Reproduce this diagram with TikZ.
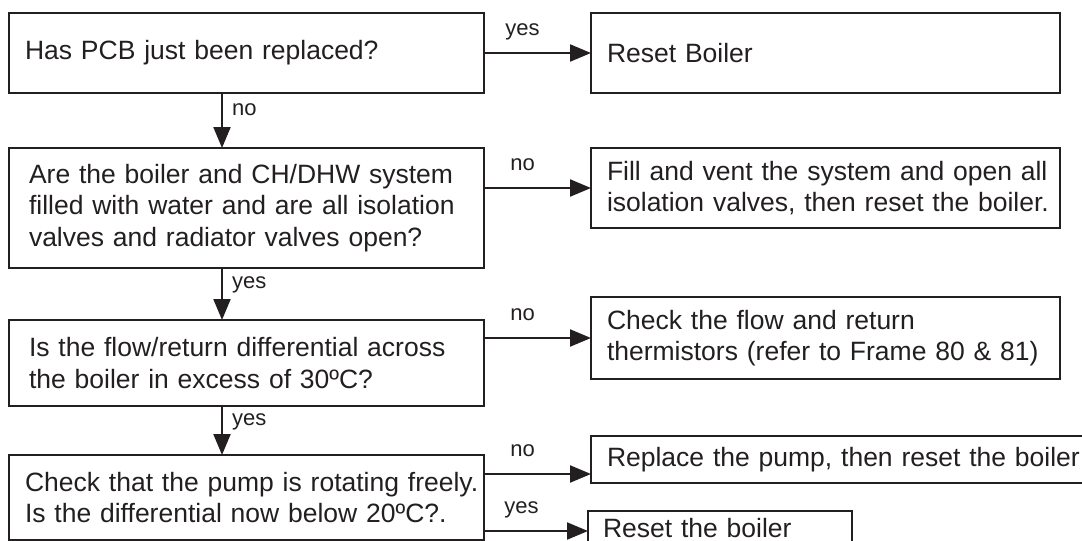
\documentclass[tikz,border=0pt]{standalone}
\usepackage{fontspec}
\setmainfont{Liberation Sans}
\usetikzlibrary{calc, positioning, arrows.meta}
\definecolor{ink}{HTML}{231F20}

\begin{document}
\begin{tikzpicture}[x=1pt,y=-1pt]
  \tikzset{box/.style={draw=ink,line width=2.2pt,text=ink,rectangle,anchor=north west,
      align=left,inner xsep=16pt,inner ysep=0pt,outer sep=0pt,
      font=\fontsize{26.5}{31.5}\selectfont},
    flow/.style={draw=ink,line width=2.2pt,-{Triangle[length=21pt,width=17pt]}},
    lbl/.style={text=ink,inner sep=0pt,font=\fontsize{22}{26}\selectfont}}
  \useasboundingbox (0,0) rectangle (1082,541);
  % questions
  \node[box,text width=443pt,minimum height=80pt](q1) at (9,13) {Has PCB just been replaced?};
  \node[box,inner xsep=20pt,text width=435pt,minimum height=120pt](q2) at (9,148)
  {Are the boiler and CH/DHW system\\ \mbox{filled with water and are all isolation}\\ valves and radiator valves open?};
  \node[box,inner xsep=20pt,text width=435pt,minimum height=86pt](q3) at (9,320)
  {\mbox{Is the flow/return differential across}\\ the boiler in excess of 30ºC?};
  \node[box,inner xsep=16pt,text width=443pt,minimum height=85pt](q4) at (9,455)
  {\mbox{Check that the pump is rotating freely.}\\ Is the differential now below 20ºC?.};
  % actions
  \node[box,text width=437pt,minimum height=80pt](r1) at (591,13) {Reset Boiler};
  \node[box,text width=437pt,minimum height=80pt](r2) at (591,148)
  {\mbox{Fill and vent the system and open all}\\ \mbox{isolation valves, then reset the boiler.}};
  \node[box,text width=437pt,minimum height=82pt](r3) at (591,297)
  {Check the flow and return\\ \mbox{thermistors (refer to Frame 80 \& 81)}};
  \node[box,text width=478pt,minimum height=47pt](r4) at (591,436)
  {\mbox{Replace the pump, then reset the boiler}};
  \node[box,inner xsep=15pt,text width=234pt,minimum height=34pt](r5) at (588,511)
  {Reset the boiler};
  \coordinate (dx) at (222,0);
  \coordinate (a4) at (591,474);
  \coordinate (a5) at (588,531);
  % down the left
  \draw[flow] (q1.south -| dx) -- node[lbl,pos=0.3,anchor=west,xshift=9pt]{no} (q2.north -| dx);
  \draw[flow] (q2.south -| dx) -- node[lbl,pos=0.33,anchor=west,xshift=9pt]{yes} (q3.north -| dx);
  \draw[flow] (q3.south -| dx) -- node[lbl,pos=0.33,anchor=west,xshift=9pt]{yes} (q4.north -| dx);
  % across to the right
  \draw[flow] (q1.east) -- node[lbl,pos=0.36,anchor=base,yshift=18pt]{yes} (r1.west);
  \draw[flow] (q2.east |- r2.west) -- node[lbl,pos=0.36,anchor=base,yshift=18pt]{no} (r2.west);
  \draw[flow] (q3.east |- r3.west) -- node[lbl,pos=0.36,anchor=base,yshift=18pt]{no} (r3.west);
  \draw[flow] (q4.east |- a4) -- node[lbl,pos=0.36,anchor=base,yshift=18pt]{no} (a4);
  \draw[flow] (q4.east |- a5) -- node[lbl,pos=0.36,anchor=base,yshift=18pt]{yes} (a5);
\end{tikzpicture}
\end{document}
